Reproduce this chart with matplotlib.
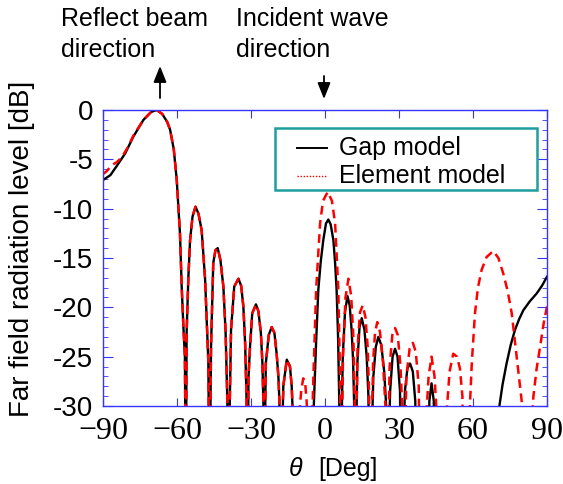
import matplotlib
matplotlib.use("Agg")
import matplotlib.pyplot as plt
from matplotlib.lines import Line2D
from matplotlib.patches import FancyArrowPatch, Rectangle

# ---------------- data ----------------
gap_theta = [-90, -87, -84.5, -81, -77.7, -73.6, -70.5, -68.2, -66, -64, -62.8, -61.3, -60.1, -58.8,
             -58.1, -57.4, -56.8, -56.4, -56.1, -55.4, -54.7, -53.7, -52.5, -51.3, -50, -48.6, -47.3,
             -46.8, -46.2, -45.3, -44.4, -43.5, -42.4, -41.2, -40.3, -39.6, -39.3, -38.1, -36.8,
             -35.1, -34, -33.1, -32.4, -31.8, -31.5, -31.0, -30.4, -29.5, -28.0, -27, -26, -25.4,
             -25, -24.7, -24.0, -22.8, -21.6, -20.5, -19.6, -18.9, -18.5, -18.0, -16.9, -15.5,
             -14.2, -13.5, -13.1, -12.5, -9, -6, -4.5, -3.6, -2.7, -1.7, -0.7, 0.4, 1.35, 2.3, 3.4,
             4.1, 4.7, 5.3, 5.8, 6.2, 7.2, 8.1, 9.1, 10.0, 10.8, 11.4, 11.8, 12.2, 13.1, 14.0, 14.9,
             16.0, 16.9, 17.6, 18.2, 19.6, 20.6, 21.6, 22.8, 24.0, 24.8, 25.3, 26.4, 27.4, 28.4,
             29.4, 30.4, 31.0, 32.4, 33.4, 34.5, 35.6, 36.6, 37.2, 41.8, 42.3, 43.2, 44.1, 44.6,
             55, 69.8, 70.7, 72, 73.6, 75.3, 77, 78.7, 80.4, 83, 85.8, 88, 90]
gap_db = [-7.1, -6.6, -5.7, -4.4, -2.7, -1.0, -0.2, 0.0, -0.4, -1.2, -2.0, -4.0, -7.1, -12.5,
          -17.9, -22, -25, -40, -22.6, -17, -13.2, -10.8, -9.8, -10.5, -12.2, -17.2, -25.5,
          -40, -24, -15.5, -14.2, -14.0, -15.2, -17.9, -22.5, -29.4, -40, -22.3, -17.9,
          -17.1, -17.8, -19.9, -23.5, -29.4, -40, -27, -24.0, -20.6, -19.7, -20.4, -22.6, -25.5,
          -29.4, -40, -25.7, -22.8, -22.0, -22.6, -24.7, -27, -29.4, -40, -28, -25.3,
          -26, -28, -30.5, -40, -33, -40, -29.7, -23.5, -18.2, -15.3, -13.2, -11.5, -11.1, -11.6, -13.2,
          -15.5, -18.2, -23, -29.7, -40, -25, -20.5, -18.85, -19.8, -22.3, -25.5, -29.7, -40, -25.7, -22, -21.1,
          -22.3, -25, -29, -40, -27, -24, -23.0, -23.8, -26.5, -30, -40, -28.5, -25, -24.2,
          -25, -28.5, -40, -28.5, -26.2, -25.7, -26.5, -29.5, -40, -40, -29.5, -27.7, -29.5, -40,
          -40, -33, -30, -27.8, -25.7, -23.8, -22.3, -21.2, -20.3, -19.4, -18.6, -17.8, -16.9]

elem_theta = [-90, -88.5, -86.5, -84.5, -82.4, -80, -77.7, -73.6, -70.5, -68.2, -66, -64, -62.8,
              -61.3, -60.1, -58.8, -58.1, -57.4, -56.8, -56.4, -56.1, -55.4, -54.7, -53.7, -52.5,
              -51.3, -50, -48.6, -47.3, -46.8, -46.2, -45.3, -44.4, -43.5, -42.4, -41.2, -40.3,
              -39.6, -39.3, -38.1, -36.8, -35.1, -34, -33.1, -32.4, -31.8, -31.5, -31.0, -30.4,
              -29.5, -28.0, -27, -26, -25.4, -25, -24.7, -24.0, -22.8, -21.6, -20.5, -19.6, -18.9,
              -18.5, -18.0, -16.9, -15.5, -14.2, -13.5, -13.1, -12.5, -10.3, -9.6, -8.8, -8.0,
              -7.4, -6.2, -5.0, -4.7, -3.6, -2.0, -0.8, 1.1, 2.8, 4.1, 5.4, 6.1, 6.5, 7.3, 8.3,
              9.5, 10.6, 11.5, 12.0, 12.3, 13.2, 14.2, 15.3, 16.4, 17.3, 17.9, 18.4, 19.5, 20.3,
              21.2, 22.3, 23.5, 24.5, 25.2, 26.2, 27.3, 28.4, 29.5, 30.6, 31.3, 31.9, 33.0, 34.3,
              35.6, 36.8, 38.0, 38.6, 41.3, 42.0, 43.2, 44.4, 45.1, 45.7, 49.5, 50.5, 52.0, 53.5,
              54.7, 55.7, 56.3, 57.8, 58.8, 59.5, 60.8, 62, 63.5, 65.5, 68.2, 70.3, 72.3, 74,
              75.7, 77.7, 79.7, 81.5, 84.5, 85.8, 87.2, 88.6, 90]
elem_db = [-6.5, -6.2, -5.6, -5.3, -4.8, -3.8, -2.6, -1.0, -0.2, 0.0, -0.4, -1.2, -2.0,
           -4.0, -7.1, -12.5, -17.9, -22, -25, -40, -22.6, -17, -13.2, -10.8, -9.8,
           -10.5, -12.2, -17.2, -25.5, -40, -24, -15.5, -14.2, -14.0, -15.2, -17.9, -22.5,
           -29.4, -40, -22.3, -17.9, -17.1, -17.8, -19.9, -23.5, -29.4, -40, -27, -24.0,
           -20.6, -19.7, -20.4, -22.6, -25.5, -29.4, -40, -25.7, -22.8, -22.0, -22.6, -24.7, -27,
           -29.4, -40, -28, -25.3, -26, -28, -30.5, -40, -30.5, -28.3, -27.2, -27.8,
           -29.7, -40, -29.7, -27, -18.2, -11.5, -9.2, -8.3, -9.2, -11.5, -18.2, -27, -40, -25, -19,
           -17.1, -18.8, -23, -29, -40, -24, -20.5, -19.8, -21, -24, -29, -40, -25.5, -22.5,
           -21.5, -22.5, -25.5, -30, -40, -26, -22.8, -22.1, -22.8, -26, -30, -40, -27, -24.2,
           -23.6, -24.5, -28, -40, -30, -27, -25, -27, -30, -40, -30, -26.5, -24.7, -25.0,
           -26.2, -29, -40, -40, -29.7, -25.7, -20.6, -18, -16.2, -14.9, -14.3, -15.0, -16.6, -18.3,
           -20.6, -25, -29.4, -40, -29, -26.2, -24, -21.7, -19.9]

series_labels = ["Gap model", "Element model"]
x_ticks = [-90, -60, -30, 0, 30, 60, 90]
x_ticklabels = ["\u221290", "\u221260", "\u221230", "0", "30", "60", "90"]
y_ticks = [0, -5, -10, -15, -20, -25, -30]
y_ticklabels = ["0", "-5", "-10", "-15", "-20", "-25", "-30"]

# ---------------- figure ----------------
W, H = 563, 484
fig = plt.figure(figsize=(W / 100, H / 100), dpi=100)
ax = fig.add_axes([103 / W, 1 - 406 / H, 444 / W, 296 / H])

ax.plot(gap_theta, gap_db, color="black", lw=1.7, solid_joinstyle="round")
ax.plot(elem_theta, elem_db, color="#ff0000", lw=1.8, linestyle=(0, (3.5, 2.2)))

ax.set_xlim(-90, 90)
ax.set_ylim(-30, 0)

blue = "#3535ff"
for s in ax.spines.values():
    s.set_color(blue)
    s.set_linewidth(1.0)

ax.set_xticks(x_ticks)
ax.set_xticklabels(x_ticklabels, fontfamily="Liberation Serif", fontsize=23)
ax.set_yticks(y_ticks)
ax.set_yticklabels(y_ticklabels, fontfamily="Liberation Sans", fontsize=20)
ax.set_yticks(list(range(-29, 0)), minor=True)
ax.tick_params(axis="both", which="both", direction="in", color=blue, top=True, right=True)
ax.tick_params(axis="x", which="major", length=5.5, pad=8)
ax.tick_params(axis="y", which="major", length=7, pad=7)
ax.tick_params(axis="y", which="minor", length=3.5)


def fx(px):
    return px / W


def fy(py):
    return 1 - py / H


# legend (drawn as a framed box in figure coordinates)
box = Rectangle((fx(275), fy(190)), fx(537) - fx(275), fy(128) - fy(190),
                transform=fig.transFigure, facecolor="white", edgecolor="#1f9e9e",
                linewidth=1.8, zorder=5)
fig.add_artist(box)
leg_styles = [dict(color="black", lw=1.4, linestyle="-"),
              dict(color="#ff0000", lw=1.0, linestyle=(0, (1, 1.2)))]
for i, (lab, st) in enumerate(zip(series_labels, leg_styles)):
    yy = 148 + 28 * i
    fig.add_artist(Line2D([fx(297), fx(327)], [fy(yy), fy(yy)], transform=fig.transFigure,
                          zorder=6, **st))
    fig.text(fx(339), fy(yy), lab, ha="left", va="center", family="Liberation Sans",
             fontsize=18, zorder=6)

tf = dict(family="Liberation Sans", fontsize=18, color="black")
fig.text(fx(61), fy(19), "Reflect beam", ha="left", va="center", **tf)
fig.text(fx(61), fy(50), "direction", ha="left", va="center", **tf)
fig.text(fx(236), fy(19), "Incident wave", ha="left", va="center", **tf)
fig.text(fx(236), fy(50), "direction", ha="left", va="center", **tf)

astyle = "-|>,head_length=0.7,head_width=0.28"
up = FancyArrowPatch((fx(160), fy(98)), (fx(160), fy(66)), transform=fig.transFigure,
                     arrowstyle=astyle, mutation_scale=14, shrinkA=0, shrinkB=0,
                     color="black", lw=1.3)
down = FancyArrowPatch((fx(324), fy(76)), (fx(324), fy(99)), transform=fig.transFigure,
                       arrowstyle=astyle, mutation_scale=14, shrinkA=0, shrinkB=0,
                       color="black", lw=1.3)
fig.add_artist(up)
fig.add_artist(down)

fig.text(fx(22), fy(249), "Far field radiation level [dB]", rotation=90,
         ha="center", va="center", family="Liberation Sans", fontsize=20, color="black")
fig.text(fx(296), fy(469), "\u03b8", ha="center", va="center", style="italic",
         family="Liberation Sans", fontsize=18)
fig.text(fx(348), fy(469), "[Deg]", ha="center", va="center", **tf)

fig.savefig("out.png", dpi=100)
